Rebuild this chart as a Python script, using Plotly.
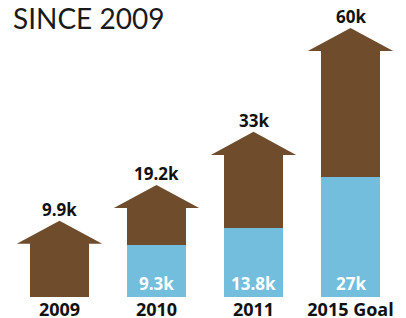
import plotly.graph_objects as go

categories = ["2009", "2010", "2011", "2015 Goal"]
totals = [9.9, 19.2, 33, 60]
blue_vals = [None, 9.3, 13.8, 27]
total_labels = ["9.9k", "19.2k", "33k", "60k"]
blue_labels = ["", "9.3k", "13.8k", "27k"]
title_text = "SINCE 2009"

BROWN = "#6f4c2c"
BLUE = "#73bddd"
FLOOR = -4.2          # visual floor of the axis (bars rise from here)
HEAD = 5.7            # arrow head height in axis units
HALF_HEAD_W = 0.44    # arrow head half-width in category units
BAR_W = 0.61
OVERLAP = 0.3         # tiny overlap so head and body join without a seam

xs = list(range(len(categories)))

fig = go.Figure()
fig.add_bar(x=xs, y=[v - FLOOR for v in totals], base=FLOOR, width=BAR_W,
            marker=dict(color=BROWN, line=dict(width=0)), hoverinfo="skip")
fig.add_bar(x=xs, y=[(v - FLOOR) if v is not None else None for v in blue_vals], base=FLOOR,
            width=BAR_W, marker=dict(color=BLUE, line=dict(width=0)), hoverinfo="skip")

for x, v in zip(xs, totals):
    b = v - OVERLAP
    fig.add_scatter(x=[x - HALF_HEAD_W, x + HALF_HEAD_W, x, x - HALF_HEAD_W],
                    y=[b, b, v + HEAD, b], fill="toself", fillcolor=BROWN,
                    mode="lines", line=dict(width=0, color=BROWN), hoverinfo="skip")

annotations = []
for x, v, lab in zip(xs, totals, total_labels):
    annotations.append(dict(x=x, y=v + HEAD, xref="x", yref="y", text=lab, showarrow=False,
                            yanchor="middle", yshift=11,
                            font=dict(family="Open Sans", size=17, color="#111111", weight=700)))
for x, lab in zip(xs, blue_labels):
    if lab:
        annotations.append(dict(x=x, y=FLOOR, xref="x", yref="y", text=lab, showarrow=False,
                                yanchor="middle", yshift=14,
                                font=dict(family="Open Sans", size=17, color="white", weight=700)))
annotations.append(dict(x=0, y=1, xref="paper", yref="paper", text=title_text, showarrow=False,
                        xanchor="left", yanchor="top", xshift=0, yshift=1,
                        font=dict(family="Lato", size=28, color="#1a1a1a", weight=400)))

fig.update_layout(
    width=406, height=318,
    margin=dict(l=11, r=7, t=0, b=21),
    paper_bgcolor="white", plot_bgcolor="white",
    barmode="overlay", bargap=0,
    showlegend=False,
    annotations=annotations,
    xaxis=dict(range=[-0.5, 3.5], tickmode="array", tickvals=xs, ticktext=categories,
               showgrid=False, zeroline=False, showline=False, ticks="", ticklabelstandoff=0,
               automargin=False,
               tickfont=dict(family="Open Sans", size=18, color="#111111", weight=700)),
    yaxis=dict(range=[FLOOR, FLOOR + 297 / 3.85], visible=False, showgrid=False, zeroline=False,
               automargin=False),
)

fig.write_html("out.html", config={"displayModeBar": False},
               post_script="document.body.style.margin='0';document.body.style.overflow='hidden';")
